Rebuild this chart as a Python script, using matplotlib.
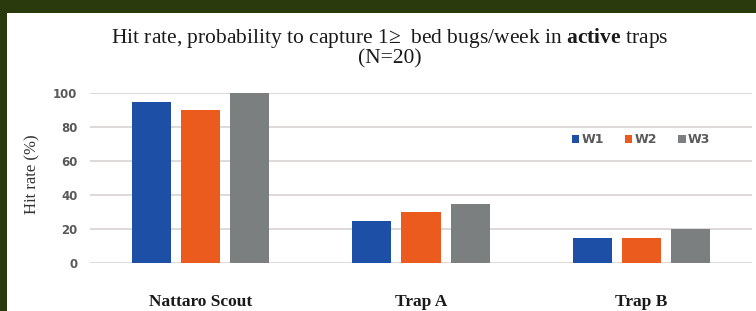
import numpy as np
import matplotlib
matplotlib.use("Agg")
import matplotlib.pyplot as plt
from matplotlib.patches import Rectangle

traps = ["Nattaro Scout", "Trap A", "Trap B"]
weeks = ["W1", "W2", "W3"]
w1 = [95, 25, 15]
w2 = [90, 30, 15]
w3 = [100, 35, 20]
yticks = [0, 20, 40, 60, 80, 100]

colors = ["#1d4fa6", "#ea5b1d", "#7b7f80"]

plt.rcParams["mathtext.fontset"] = "custom"
plt.rcParams["mathtext.rm"] = "Liberation Serif"
plt.rcParams["mathtext.bf"] = "Liberation Serif:bold"

fig = plt.figure(figsize=(7.56, 3.11), dpi=100, facecolor="#2a3a0c")
# white panel inside the dark frame
fig.patches.append(Rectangle((7 / 756, 0), 1, (311 - 13) / 311,
                             transform=fig.transFigure, facecolor="white",
                             edgecolor="none", zorder=-1))

ax = fig.add_axes([90 / 756, (311 - 263) / 311, 662 / 756, 170 / 311])
ax.set_facecolor("none")
ax.set_zorder(2)

x = np.arange(len(traps))
width = 0.177
step = 0.223
for i, (vals, lab) in enumerate(zip([w1, w2, w3], weeks)):
    ax.bar(x + (i - 1) * step, vals, width, color=colors[i], label=lab, zorder=3)

ax.set_xlim(-0.5, 2.5)
ax.set_ylim(0, 100)
ax.set_yticks(yticks)
ax.grid(axis="y", color="#dcd7d6", linewidth=1.3, zorder=0)
for s in ax.spines.values():
    s.set_visible(False)

ax.tick_params(axis="y", length=0, pad=9, labelsize=8.5, labelcolor="#595959")
for t in ax.get_yticklabels():
    t.set_fontweight("bold")

ax.set_xticks(x)
ax.set_xticklabels(traps, family="Liberation Serif", fontweight="bold", fontsize=12.5,
                   color="#1a1a1a")
ax.tick_params(axis="x", length=0, pad=22)

ax.set_ylabel("Hit rate (%)", family="Liberation Serif", fontsize=12, color="#333333")
ax.yaxis.set_label_coords(-0.075, 0.52)

leg = ax.legend(loc="center", bbox_to_anchor=(0.832, 0.724), ncol=3, frameon=False,
                handlelength=0.6, handleheight=0.6, handletextpad=0.15,
                columnspacing=1.7, prop={"weight": "bold", "size": 9})
for t in leg.get_texts():
    t.set_color("#595959")

fig.text(390 / 756, 1 - 38 / 311,
         r"Hit rate, probability to capture 1≥  bed bugs/week in $\mathbf{active}$ traps",
         family="Liberation Serif", fontsize=15.5, ha="center", va="center", color="#1a1a1a")
fig.text(390 / 756, 1 - 59 / 311, "(N=20)",
         family="Liberation Serif", fontsize=15.5, ha="center", va="center", color="#1a1a1a")

fig.savefig("out.png", dpi=100, facecolor=fig.get_facecolor())
